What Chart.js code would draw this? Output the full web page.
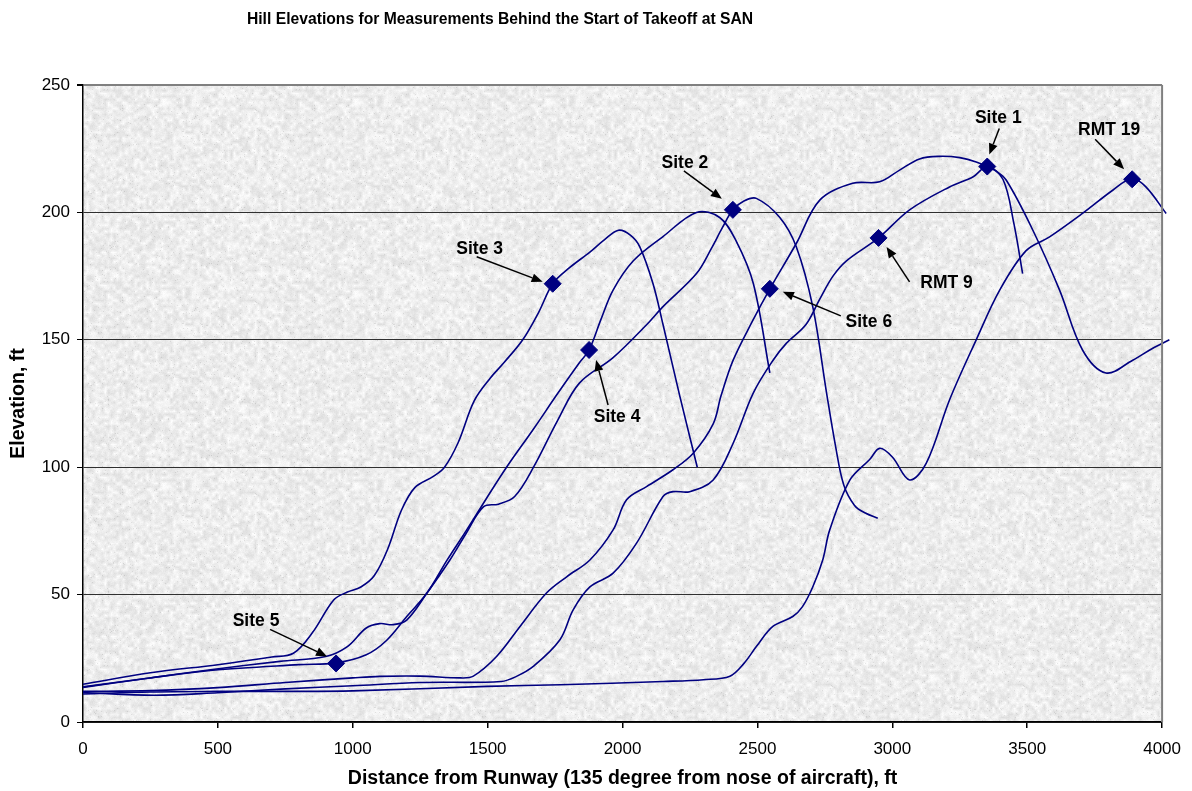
<!DOCTYPE html>
<html>
<head>
<meta charset="utf-8">
<title>Hill Elevations</title>
<script src="https://cdn.jsdelivr.net/npm/chart.js@4/dist/chart.umd.min.js"></script>
<style>
  html, body { margin: 0; padding: 0; background: #fff; }
  canvas { display: block; }
</style>
</head>
<body>
<canvas id="hillChart" width="1192" height="791"></canvas>
<script>
// Ground profiles behind the start of takeoff (distance ft, elevation ft)
const site3Dist = [0, 250, 500, 700, 780, 850, 930, 980, 1030, 1080, 1130, 1180, 1230, 1300, 1340, 1390, 1450, 1510, 1560, 1630, 1690, 1741, 1800, 1880, 1930, 1985, 2030, 2064, 2113, 2150, 2212, 2277];
const site3Elev = [14.8, 19.3, 22.5, 25.5, 27, 35, 48, 51, 53, 57.5, 68, 83, 92, 96.5, 100, 109.5, 126, 135, 141, 150, 161, 172, 178, 184.5, 189, 193, 191, 186.5, 172, 156, 128, 100];

const site4Dist = [0, 240, 480, 800, 938, 1050, 1125, 1200, 1275, 1350, 1420, 1500, 1570, 1670, 1760, 1840, 1876, 1920, 1965, 2040, 2150, 2274, 2360, 2420, 2485, 2546];
const site4Elev = [13.8, 17.2, 20.3, 22.5, 23.2, 26.4, 32, 41.4, 50.6, 63.6, 75, 88.5, 100, 115, 129, 141, 146, 158, 169.5, 181, 190.5, 200, 198, 189, 172, 137];

const site2Dist = [0, 240, 480, 730, 900, 980, 1050, 1100, 1150, 1200, 1275, 1360, 1420, 1485, 1540, 1600, 1670, 1760, 1840, 1965, 2090, 2150, 2274, 2330, 2370, 2409, 2450, 2496, 2583, 2644, 2705, 2755, 2790, 2820, 2860, 2900, 2946];
const site2Elev = [13.6, 17.2, 20.6, 23.8, 25.7, 29.6, 36.9, 38.6, 38.2, 40, 50.6, 63.6, 74, 84.5, 85.5, 88.5, 100, 118.5, 133, 143, 156, 163, 176, 186, 194, 201, 204.5, 205.5, 198, 186.5, 163, 130, 108, 93, 85, 82, 80];

const site6Dist = [0, 250, 500, 750, 1000, 1100, 1250, 1400, 1447, 1533, 1620, 1718, 1793, 1879, 1965, 2015, 2089, 2187, 2262, 2336, 2365, 2410, 2480, 2546, 2644, 2731, 2853, 2953, 3027, 3101, 3175, 3250, 3311, 3380, 3422, 3521, 3620, 3705, 3792, 3891, 3964, 4027];
const site6Elev = [12, 12.3, 13.5, 15.5, 17.3, 17.9, 18, 17.3, 18, 25.7, 37.5, 50.6, 57, 63.6, 75.4, 87.2, 92.4, 99, 105.5, 117, 128, 142, 157, 170, 187.8, 204.8, 211.4, 212, 216.6, 221, 222, 221.5, 219.8, 216.5, 212.7, 193, 169.5, 146, 137, 142, 146.6, 150];

const rmt9Dist = [0, 262, 500, 750, 1000, 1250, 1550, 1607, 1669, 1768, 1817, 1879, 1965, 2052, 2150, 2187, 2249, 2336, 2410, 2484, 2558, 2607, 2680, 2731, 2780, 2830, 2949, 3064, 3212, 3300, 3352, 3410, 3450, 3483];
const rmt9Elev = [11.6, 10.5, 11.5, 13, 14.2, 15.5, 15.9, 17.9, 21.8, 32.3, 44, 53, 58.4, 70.2, 88.5, 90.4, 90.4, 95, 109.4, 129, 142, 148.6, 156, 166, 175, 181, 190, 201, 210, 214, 218, 213, 196, 176];

const rmt19Dist = [0, 250, 500, 750, 1000, 1500, 1770, 2150, 2300, 2398, 2450, 2496, 2557, 2631, 2667, 2705, 2742, 2768, 2843, 2916, 2953, 3000, 3064, 3126, 3212, 3311, 3398, 3496, 3583, 3705, 3817, 3889, 3940, 4015];
const rmt19Elev = [11, 11.8, 12, 12, 12.2, 14, 14.6, 15.9, 16.6, 18, 23, 29.6, 37.5, 41.4, 45.3, 53, 63.6, 75.4, 95, 103, 107.4, 104, 95, 101.6, 126.4, 150, 169.5, 185, 190.4, 199.6, 208.7, 213.3, 210, 199.6];

// Measurement sites
const siteNames = ['Site 1', 'Site 2', 'Site 3', 'Site 4', 'Site 5', 'Site 6', 'RMT 9', 'RMT 19'];
const siteDist = [3352, 2409, 1741, 1876, 938, 2546, 2949, 3889];
const siteElev = [218, 201, 172, 146, 23, 170, 190, 213];

// Axis ticks
const xTicks = [0, 500, 1000, 1500, 2000, 2500, 3000, 3500, 4000];
const yTicks = [0, 50, 100, 150, 200, 250];

// Callout placement in pixels, relative to each marker: label centre, arrow tail, arrow tip
const calloutLayout = {
  'Site 1': { label: [11, -48], tail: [12, -38], tip: [2, -12] },
  'RMT 19': { label: [-23, -49], tail: [-37, -40], tip: [-8, -10] },
  'RMT 9': { label: [68, 45], tail: [31, 44], tip: [8, 9] },
  'Site 6': { label: [99, 33], tail: [71, 27], tip: [13, 3] },
  'Site 2': { label: [-48, -47], tail: [-49, -39], tip: [-11, -11] },
  'Site 3': { label: [-73, -35], tail: [-76, -27], tip: [-10, -2] },
  'Site 4': { label: [28, 67], tail: [19, 55], tip: [7, 10] },
  'Site 5': { label: [-80, -42], tail: [-66, -34], tip: [-9, -7] }
};

const NAVY = '#000080';
const FONT = '"Liberation Sans", Arial, Helvetica, sans-serif';

function pairs(xs, ys) {
  return xs.map((x, i) => ({ x: x, y: ys[i] }));
}

function profile(xs, ys) {
  return {
    data: pairs(xs, ys),
    borderColor: NAVY,
    borderWidth: 1.6,
    pointRadius: 0,
    tension: 0.35,
    fill: false,
    clip: false
  };
}

// Mottled light-grey stone fill for the plot area
function makeGranite() {
  const size = 192, cell = 3, n = size / cell;
  let seed = 20240611;
  const rnd = () => (seed = (seed * 16807) % 2147483647) / 2147483647;
  const coarse = [];
  for (let i = 0; i < n * n; i++) coarse.push(rnd());
  const at = (cx, cy) => coarse[((cy + n) % n) * n + ((cx + n) % n)];
  const c = document.createElement('canvas');
  c.width = size; c.height = size;
  const g = c.getContext('2d');
  const img = g.createImageData(size, size);
  for (let py = 0; py < size; py++) {
    for (let px = 0; px < size; px++) {
      const fx = px / cell, fy = py / cell;
      const x0 = Math.floor(fx), y0 = Math.floor(fy);
      const tx = fx - x0, ty = fy - y0;
      const top = at(x0, y0) * (1 - tx) + at(x0 + 1, y0) * tx;
      const bot = at(x0, y0 + 1) * (1 - tx) + at(x0 + 1, y0 + 1) * tx;
      const blot = top * (1 - ty) + bot * ty;
      let v = 222 + blot * 30 + (rnd() - 0.5) * 8;
      if (rnd() < 0.015) v -= 20;
      const k = (py * size + px) * 4;
      img.data[k] = img.data[k + 1] = img.data[k + 2] = v;
      img.data[k + 3] = 255;
    }
  }
  g.putImageData(img, 0, 0);
  return c;
}

const plotBackground = {
  id: 'plotBackground',
  beforeDraw(chart) {
    const { ctx, chartArea: a } = chart;
    ctx.save();
    ctx.fillStyle = '#fff';
    ctx.fillRect(0, 0, chart.width, chart.height);
    ctx.fillStyle = ctx.createPattern(makeGranite(), 'repeat');
    ctx.fillRect(a.left, a.top, a.right - a.left, a.bottom - a.top);
    ctx.restore();
  },
  afterDatasetsDraw(chart) {
    const { ctx, chartArea: a } = chart;
    ctx.save();
    ctx.strokeStyle = '#808080';
    ctx.lineWidth = 2;
    ctx.beginPath();
    ctx.moveTo(a.right, a.top);
    ctx.lineTo(a.right, a.bottom);
    ctx.stroke();
    ctx.restore();
  }
};

function arrow(ctx, x1, y1, x2, y2) {
  const ang = Math.atan2(y2 - y1, x2 - x1);
  const len = 11, half = 4.5;
  const bx = x2 - Math.cos(ang) * len;
  const by = y2 - Math.sin(ang) * len;
  ctx.beginPath();
  ctx.moveTo(x1, y1);
  ctx.lineTo(bx, by);
  ctx.stroke();
  ctx.beginPath();
  ctx.moveTo(x2, y2);
  ctx.lineTo(bx - Math.sin(ang) * half, by + Math.cos(ang) * half);
  ctx.lineTo(bx + Math.sin(ang) * half, by - Math.cos(ang) * half);
  ctx.closePath();
  ctx.fill();
}

const callouts = {
  id: 'callouts',
  afterDraw(chart) {
    const { ctx, scales: { x, y } } = chart;
    ctx.save();
    ctx.fillStyle = '#000';
    ctx.strokeStyle = '#000';
    ctx.lineWidth = 1.5;
    ctx.font = 'bold 17.5px ' + FONT;
    ctx.textAlign = 'center';
    ctx.textBaseline = 'middle';
    siteNames.forEach((name, i) => {
      const px = x.getPixelForValue(siteDist[i]);
      const py = y.getPixelForValue(siteElev[i]);
      const c = calloutLayout[name];
      ctx.fillText(name, px + c.label[0], py + c.label[1]);
      arrow(ctx, px + c.tail[0], py + c.tail[1], px + c.tip[0], py + c.tip[1]);
    });

    // chart title
    ctx.font = 'bold 15.7px ' + FONT;
    ctx.fillText('Hill Elevations for Measurements Behind the Start of Takeoff at SAN', 500, 20);
    ctx.restore();
  }
};

const profiles = [
  profile(site3Dist, site3Elev),
  profile(site4Dist, site4Elev),
  profile(site2Dist, site2Elev),
  profile(site6Dist, site6Elev),
  profile(rmt9Dist, rmt9Elev),
  profile(rmt19Dist, rmt19Elev)
];

const markers = {
  data: pairs(siteDist, siteElev),
  showLine: false,
  pointStyle: 'rectRot',
  pointRadius: 8.5,
  backgroundColor: NAVY,
  borderColor: NAVY,
  borderWidth: 1,
  clip: false
};

new Chart(document.getElementById('hillChart'), {
  type: 'line',
  data: { datasets: profiles.concat([markers]) },
  options: {
    responsive: false,
    animation: false,
    devicePixelRatio: 1,
    layout: { padding: { top: 85, right: 29, left: 0, bottom: 0 } },
    elements: { line: { capBezierPoints: false } },
    plugins: {
      legend: { display: false },
      tooltip: { enabled: false },
      title: { display: false }
    },
    scales: {
      x: {
        type: 'linear',
        min: 0,
        max: 4000,
        afterBuildTicks: s => { s.ticks = xTicks.map(v => ({ value: v })); },
        afterFit: s => { s.height = 69; },
        ticks: {
          color: '#000',
          font: { family: FONT, size: 17 },
          padding: 11,
          maxRotation: 0,
          callback: v => String(v)
        },
        grid: { drawOnChartArea: false, tickLength: 6, color: '#000', lineWidth: 1.5 },
        border: { color: '#000', width: 1.5 },
        title: {
          display: true,
          text: 'Distance from Runway (135 degree from nose of aircraft), ft',
          color: '#000',
          font: { family: FONT, size: 19.5, weight: 'bold' },
          padding: { top: 0, bottom: 1 }
        }
      },
      y: {
        min: 0,
        max: 250,
        afterBuildTicks: s => { s.ticks = yTicks.map(v => ({ value: v })); },
        afterFit: s => { s.width = 83; },
        ticks: { color: '#000', font: { family: FONT, size: 17 }, padding: 7, callback: v => String(v) },
        grid: {
          tickLength: 6,
          tickColor: '#000',
          color: c => (c.tick && c.tick.value === 250 ? '#808080' : '#303030'),
          lineWidth: c => (c.tick && c.tick.value === 250 ? 2 : 1)
        },
        border: { color: '#000', width: 1.5 },
        title: {
          display: true,
          text: 'Elevation, ft',
          color: '#000',
          font: { family: FONT, size: 19.5, weight: 'bold' },
          padding: { top: 7, bottom: 0 }
        }
      }
    }
  },
  plugins: [plotBackground, callouts]
});
</script>
</body>
</html>
